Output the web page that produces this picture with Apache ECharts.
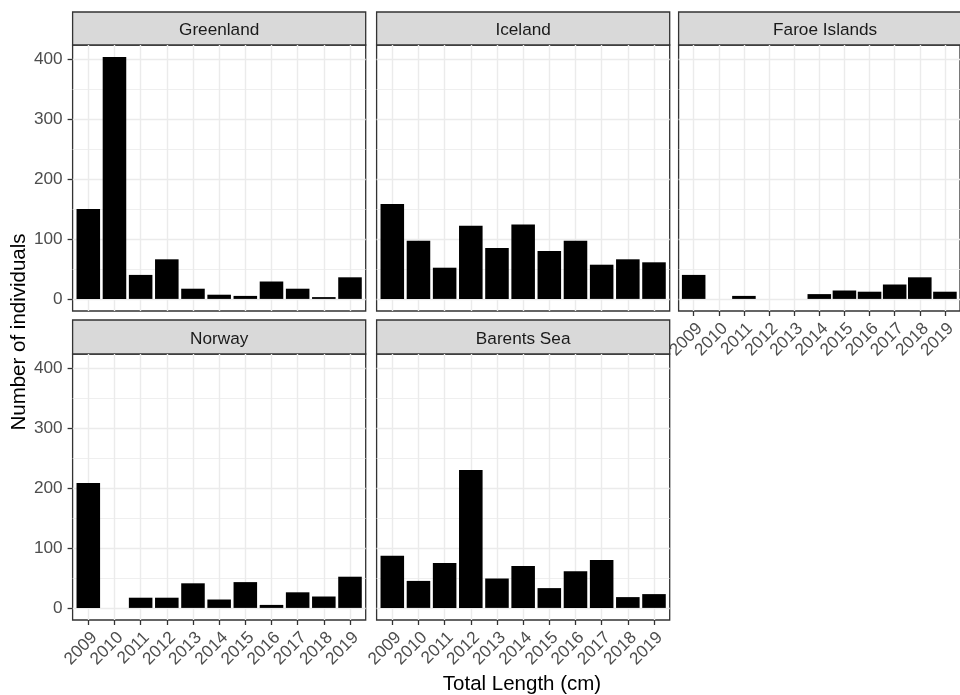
<!DOCTYPE html>
<html>
<head>
<meta charset="utf-8">
<script src="https://cdn.jsdelivr.net/npm/echarts@6/dist/echarts.min.js"></script>
<style>
  html, body { margin: 0; padding: 0; background: #ffffff; }
  #chart { width: 960px; height: 695px; }
</style>
</head>
<body>
<div id="chart"></div>
<script>
// Yearly counts of individuals per region
const years = ['2009', '2010', '2011', '2012', '2013', '2014', '2015', '2016', '2017', '2018', '2019'];
const regions = ['Greenland', 'Iceland', 'Faroe Islands', 'Norway', 'Barents Sea'];
const greenland = [150, 403, 40, 66, 17, 7, 5, 29, 17, 3, 36];
const iceland = [158, 97, 52, 122, 85, 124, 80, 97, 57, 66, 61];
const faroe = [40, null, 5, null, null, 8, 14, 12, 24, 36, 12];
const norway = [208, null, 17, 17, 41, 14, 43, 5, 26, 19, 52];
const barents = [87, 45, 75, 230, 49, 70, 33, 61, 80, 18, 23];
const yTicks = [0, 100, 200, 300, 400];
const yMinor = [50, 150, 250, 350];
const yLabel = 'Number of individuals';
const xLabel = 'Total Length (cm)';

const seriesValues = [greenland, iceland, faroe, norway, barents];

// Facet layout (3 columns, 2 rows)
const colLeft = [72.6, 376.6, 678.6];
const panelW = 293.1;
const rowTop = [45, 354];
const panelH = 266;
const stripH = [33, 34];
const nCat = years.length;
const xPos = years.map((_, k) => k + 1);
const xMin = 0.4, xMax = nCat + 0.6;
const yMin = -20.15, yMax = 423.15;
const barW = panelW / (xMax - xMin) * 0.9;

const FONT = '"Liberation Sans", Arial, sans-serif';
const SMALL = 17.2;
const TITLE = 20.5;
const LINE = 1.3;

const grids = [], xAxes = [], yAxes = [], series = [], graphics = [];

regions.forEach((name, i) => {
  const col = i % 3, row = Math.floor(i / 3);
  const showX = row === 1 || i === 2;
  const showY = col === 0;
  const left = colLeft[col], top = rowTop[row];

  grids.push({
    left: left, top: top, width: panelW, height: panelH,
    show: true, borderColor: '#333333', borderWidth: LINE, backgroundColor: 'transparent'
  });

  xAxes.push({
    type: 'value', gridIndex: i, min: xMin, max: xMax,
    axisLine: { show: false, onZero: false },
    axisTick: { show: showX, customValues: xPos, length: 5, lineStyle: { color: '#333333', width: LINE } },
    axisLabel: {
      show: showX, customValues: xPos, rotate: 45, margin: 9,
      align: 'right', verticalAlign: 'top',
      formatter: v => years[Math.round(v) - 1] || '',
      color: '#4d4d4d', fontSize: SMALL, fontFamily: FONT
    },
    splitLine: { show: true, lineStyle: { color: '#ebebeb', width: 1.4 } }
  });

  yAxes.push({
    type: 'value', gridIndex: i, min: yMin, max: yMax,
    axisLine: { show: false, onZero: false },
    axisTick: { show: showY, customValues: yTicks, length: 5, lineStyle: { color: '#333333', width: LINE } },
    axisLabel: {
      show: showY, customValues: yTicks, margin: 10,
      color: '#4d4d4d', fontSize: SMALL, fontFamily: FONT
    },
    splitLine: { show: true, lineStyle: { color: '#ebebeb', width: 1.4 } }
  });

  // Only years with observations get a bar
  const pts = [];
  seriesValues[i].forEach((v, k) => { if (v !== null) pts.push([xPos[k], v]); });

  series.push({
    type: 'bar', xAxisIndex: i, yAxisIndex: i,
    data: pts,
    barWidth: barW,
    itemStyle: { color: '#000000' },
    silent: true, z: 3,
    markLine: {
      silent: true, symbol: 'none', z: 1,
      label: { show: false },
      lineStyle: { color: '#ebebeb', width: 0.8, type: 'solid' },
      data: yMinor.map(v => ({ yAxis: v }))
    }
  });

  // Facet strip
  const sh = stripH[row];
  graphics.push({
    type: 'rect',
    shape: { x: left, y: top - sh, width: panelW, height: sh },
    style: { fill: '#d9d9d9', stroke: '#333333', lineWidth: LINE }
  });
  graphics.push({
    type: 'text',
    x: left + panelW / 2, y: top - sh / 2 + 2,
    style: {
      text: name, fill: '#1a1a1a', font: SMALL + 'px ' + FONT,
      textAlign: 'center', textVerticalAlign: 'middle'
    }
  });
});

// Axis titles
graphics.push({
  type: 'text', x: 19, y: 332, rotation: Math.PI / 2,
  style: { text: yLabel, fill: '#000000', font: TITLE + 'px ' + FONT, textAlign: 'center', textVerticalAlign: 'middle' }
});
graphics.push({
  type: 'text', x: 522, y: 684,
  style: { text: xLabel, fill: '#000000', font: TITLE + 'px ' + FONT, textAlign: 'center', textVerticalAlign: 'middle' }
});

const chart = echarts.init(document.getElementById('chart'), null, { renderer: 'canvas' });
chart.setOption({
  animation: false,
  backgroundColor: '#ffffff',
  grid: grids,
  xAxis: xAxes,
  yAxis: yAxes,
  series: series,
  graphic: graphics
});
</script>
</body>
</html>
